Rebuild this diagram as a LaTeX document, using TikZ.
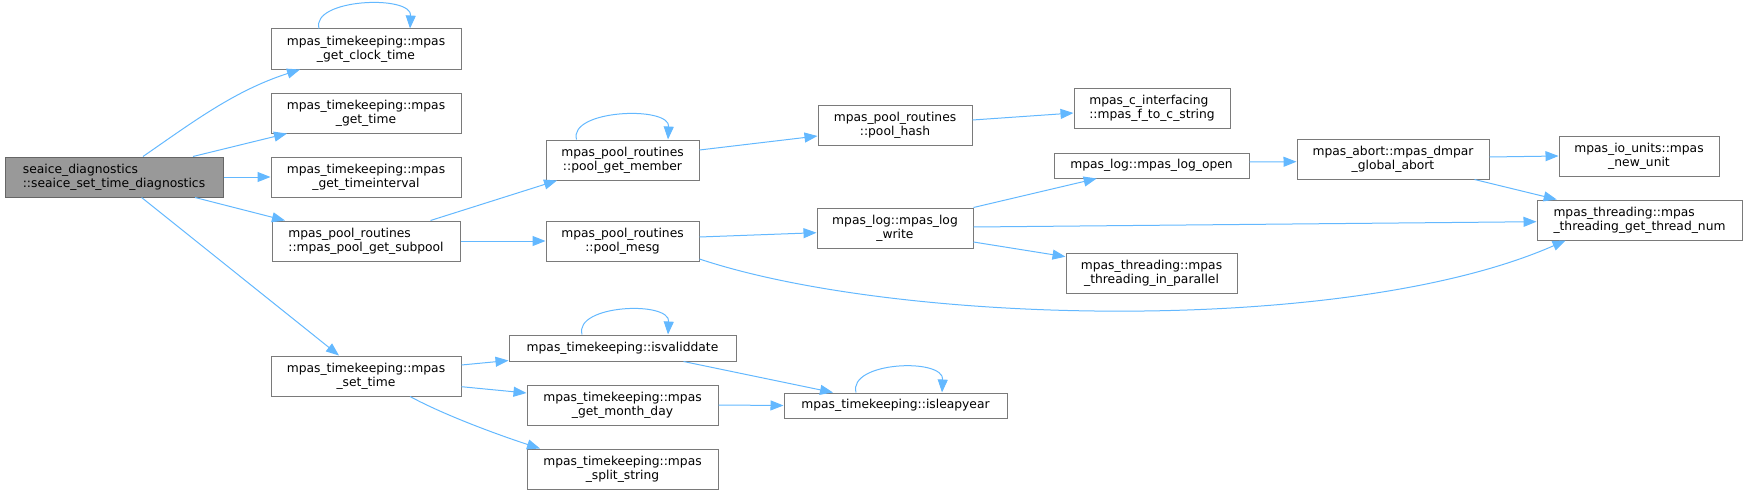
\documentclass[tikz,border=0pt]{standalone}
\usepackage{fontspec}
\setmainfont{DejaVu Sans}
\usetikzlibrary{arrows.meta}
\definecolor{edgeblue}{HTML}{63B8FF}
\definecolor{boxborder}{HTML}{7A7A7A}
\definecolor{rootfill}{HTML}{999999}
\definecolor{rootborder}{HTML}{666666}
\begin{document}
\begin{tikzpicture}[x=1pt,y=-1pt,
  fn/.style={draw=boxborder, fill=white, line width=1pt, inner sep=0pt, align=center,
    font=\fontsize{12.3}{13.7}\selectfont, text=black},
  rootfn/.style={fn, draw=rootborder, fill=rootfill, align=left},
  leftfn/.style={fn, align=left},
  edge/.style={draw=edgeblue, line width=1pt, -{Triangle[length=13pt,width=10pt]}},
  loopedge/.style={edge}
]
\useasboundingbox (0,0) rectangle (1747,495);

% nodes
\node[rootfn, minimum width=218pt, minimum height=40pt] (root) at (114,177)
  {seaice\_diagnostics\\::seaice\_set\_time\_diagnostics};
\node[fn, minimum width=190pt, minimum height=40pt] (clock) at (366,49)
  {mpas\_timekeeping::mpas\\\_get\_clock\_time};
\node[fn, minimum width=190pt, minimum height=40pt] (gettime) at (366,113)
  {mpas\_timekeeping::mpas\\\_get\_time};
\node[fn, minimum width=190pt, minimum height=40pt] (tint) at (366,177)
  {mpas\_timekeeping::mpas\\\_get\_timeinterval};
\node[leftfn, minimum width=188pt, minimum height=40pt] (subpool) at (366,241)
  {mpas\_pool\_routines\\::mpas\_pool\_get\_subpool};
\node[fn, minimum width=190pt, minimum height=40pt] (settime) at (366,376)
  {mpas\_timekeeping::mpas\\\_set\_time};
\node[fn, minimum width=153pt, minimum height=40pt] (member) at (622.5,160)
  {mpas\_pool\_routines\\::pool\_get\_member};
\node[fn, minimum width=153pt, minimum height=40pt] (mesg) at (622.5,241)
  {mpas\_pool\_routines\\::pool\_mesg};
\node[fn, minimum width=154pt, minimum height=40pt] (hash) at (895,125)
  {mpas\_pool\_routines\\::pool\_hash};
\node[fn, minimum width=156pt, minimum height=40pt] (write) at (895,228)
  {mpas\_log::mpas\_log\\\_write};
\node[leftfn, minimum width=156pt, minimum height=40pt] (cint) at (1152,108)
  {mpas\_c\_interfacing\\::mpas\_f\_to\_c\_string};
\node[fn, minimum width=195pt, minimum height=25pt] (open) at (1151.5,165.5)
  {mpas\_log::mpas\_log\_open};
\node[fn, minimum width=192pt, minimum height=40pt] (abort) at (1393,159)
  {mpas\_abort::mpas\_dmpar\\\_global\_abort};
\node[fn, minimum width=160pt, minimum height=40pt] (iounits) at (1639,156)
  {mpas\_io\_units::mpas\\\_new\_unit};
\node[leftfn, minimum width=205pt, minimum height=40pt] (threadnum) at (1639.5,220)
  {mpas\_threading::mpas\\\_threading\_get\_thread\_num};
\node[fn, minimum width=171pt, minimum height=40pt] (parallel) at (1151.5,273)
  {mpas\_threading::mpas\\\_threading\_in\_parallel};
\node[fn, minimum width=227pt, minimum height=26pt] (valid) at (622.5,348)
  {mpas\_timekeeping::isvaliddate};
\node[fn, minimum width=191pt, minimum height=40pt] (monthday) at (622.5,405)
  {mpas\_timekeeping::mpas\\\_get\_month\_day};
\node[fn, minimum width=191pt, minimum height=40pt] (split) at (622.5,469)
  {mpas\_timekeeping::mpas\\\_split\_string};
\node[fn, minimum width=223pt, minimum height=25pt] (leap) at (895.5,405.5)
  {mpas\_timekeeping::isleapyear};

% edges from root
\draw[edge] ([xshift=29pt]root.north) .. controls +(52,-36) and +(-65,21) .. ([xshift=-66pt]clock.south);
\draw[edge] ([xshift=79pt]root.north) -- ([xshift=-79pt]gettime.south);
\draw[edge] (root.east) -- (tint.west);
\draw[edge] ([xshift=81pt]root.south) -- ([xshift=-81pt]subpool.north);
\draw[edge] ([xshift=27.6pt]root.south) -- ([xshift=-27pt]settime.north);

% self loops
\draw[loopedge] ([xshift=-47pt]clock.north) .. controls +(-8,-30) and +(2,-34) .. ([xshift=44pt]clock.north);
\draw[loopedge] ([xshift=-46pt]member.north) .. controls +(-8,-30) and +(2,-34) .. ([xshift=45.5pt]member.north);
\draw[loopedge] ([xshift=-40.5pt]valid.north) .. controls +(-8,-30) and +(2,-34) .. ([xshift=45.5pt]valid.north);
\draw[loopedge] ([xshift=-39.5pt]leap.north) .. controls +(-8,-31) and +(2,-35) .. ([xshift=46.5pt]leap.north);

% subpool
\draw[edge] ([xshift=64.5pt]subpool.north) -- ([xshift=-65.5pt]member.south);
\draw[edge] (subpool.east) -- (mesg.west);

% member / hash
\draw[edge] ([yshift=10pt]member.east) -- ([yshift=-11pt]hash.west);
\draw[edge] ([yshift=5pt]hash.east) -- ([yshift=-5pt]cint.west);

% mesg
\draw[edge] ([yshift=4pt]mesg.east) -- ([yshift=-4.7pt]write.west);
\draw[edge] ([yshift=-18pt]mesg.east) .. controls +(201,67) and +(-216,95) .. ([xshift=-74pt]threadnum.south);

% write
\draw[edge] (write.north east) -- ([xshift=-54.8pt]open.south);
\draw[edge] ([yshift=1pt]write.east) -- ([yshift=-1.7pt]threadnum.west);
\draw[edge] ([yshift=-14pt]write.east) -- ([yshift=16.3pt]parallel.west);

% open / abort
\draw[edge] ([yshift=3.5pt]open.east) -- ([yshift=-2.7pt]abort.west);
\draw[edge] ([yshift=2pt]abort.east) -- (iounits.west);
\draw[edge] ([xshift=81.5pt]abort.south) -- ([xshift=-82.8pt]threadnum.north);

% settime
\draw[edge] ([yshift=11pt]settime.east) -- ([yshift=1pt]valid.south west);
\draw[edge] ([yshift=-10.7pt]settime.east) -- ([yshift=12pt]monthday.west);
\draw[edge] ([xshift=44pt]settime.south) .. controls +(35,19) and +(-40,-13) .. ([xshift=-82.5pt]split.north);

% valid / monthday
\draw[edge] ([xshift=61pt]valid.south) -- ([xshift=-62.5pt]leap.north);
\draw[edge] (monthday.east) -- (leap.west);
\end{tikzpicture}
\end{document}
